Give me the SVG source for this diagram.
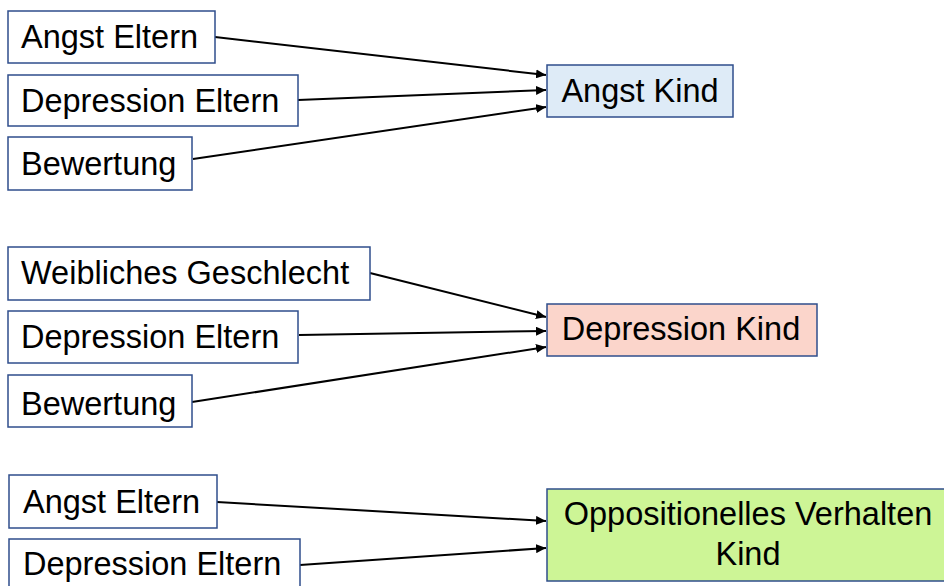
<svg xmlns="http://www.w3.org/2000/svg" width="944" height="586" viewBox="0 0 944 586">
<defs>
<style>
.box{fill:#ffffff;stroke:#2F4E8C;stroke-width:1.5}
.t{font-family:"Liberation Sans",Arial,sans-serif;font-size:32.5px;fill:#000}
.c{stroke:#000;stroke-width:2;fill:none;marker-end:url(#ah)}
</style>
<marker id="ah" markerUnits="userSpaceOnUse" markerWidth="11" markerHeight="9" refX="10" refY="4.5" orient="auto">
<path d="M0,0 L10,4.5 L0,9 z" fill="#000"/>
</marker>
</defs>
<rect width="944" height="586" fill="#ffffff"/>
<g id="connectors">
<line class="c" x1="215" y1="37" x2="546" y2="75"/>
<line class="c" x1="298" y1="100" x2="546" y2="90"/>
<line class="c" x1="193" y1="159" x2="546" y2="107"/>
<line class="c" x1="370" y1="273" x2="546" y2="317"/>
<line class="c" x1="299" y1="335" x2="546" y2="331"/>
<line class="c" x1="192" y1="402" x2="546" y2="347"/>
<line class="c" x1="217" y1="502" x2="546" y2="521"/>
<line class="c" x1="300" y1="565" x2="546" y2="548"/>
</g>
<g id="n1"><rect class="box" x="8" y="11" width="207" height="52"/><text class="t" x="21" y="48">Angst Eltern</text></g>
<g id="n2"><rect class="box" x="8" y="75" width="290" height="51"/><text class="t" x="21" y="112">Depression Eltern</text></g>
<g id="n3"><rect class="box" x="8" y="137" width="184" height="53"/><text class="t" x="21" y="175">Bewertung</text></g>
<g id="n4"><rect class="box" x="547" y="65" width="186" height="52" style="fill:#DEEBF7"/><text class="t" x="640" y="102" text-anchor="middle">Angst Kind</text></g>
<g id="n5"><rect class="box" x="8" y="247" width="362" height="53"/><text class="t" x="21" y="284">Weibliches Geschlecht</text></g>
<g id="n6"><rect class="box" x="8" y="311" width="290" height="52"/><text class="t" x="21" y="348">Depression Eltern</text></g>
<g id="n7"><rect class="box" x="8" y="375" width="184" height="52"/><text class="t" x="21" y="415">Bewertung</text></g>
<g id="n8"><rect class="box" x="547" y="304" width="270" height="52" style="fill:#FBD5CB"/><text class="t" x="681" y="340" text-anchor="middle">Depression Kind</text></g>
<g id="n9"><rect class="box" x="9" y="475" width="208" height="53"/><text class="t" x="23" y="513">Angst Eltern</text></g>
<g id="n10"><rect class="box" x="9" y="539" width="291" height="52"/><text class="t" x="23" y="575">Depression Eltern</text></g>
<g id="n11"><rect class="box" x="547" y="489" width="400" height="92" style="fill:#CDF596"/><text class="t" x="748" y="525" text-anchor="middle">Oppositionelles Verhalten</text><text class="t" x="748" y="565" text-anchor="middle">Kind</text></g>
</svg>
